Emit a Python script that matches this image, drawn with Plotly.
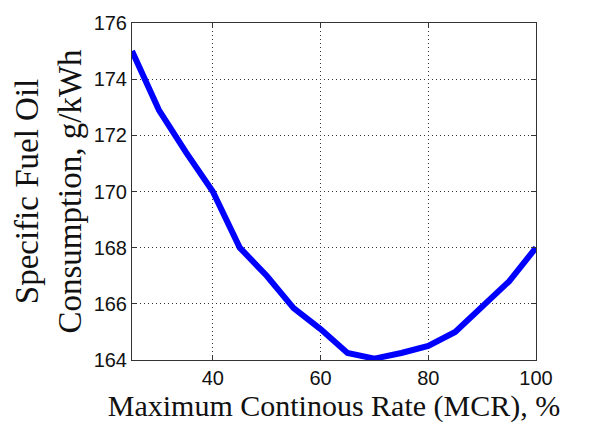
import plotly.graph_objects as go

mcr = [25, 30, 35, 40, 45, 50, 55, 60, 65, 70, 75, 80, 85, 90, 95, 100]
sfoc = [175.0, 172.9, 171.4, 170.0, 168.0, 167.0, 165.85, 165.1, 164.25, 164.05, 164.25, 164.5, 165.0, 165.9, 166.8, 168.0]

xticks = [40, 60, 80, 100]
yticks = [164, 166, 168, 170, 172, 174, 176]

SERIF = "Liberation Serif"
SANS = "Liberation Sans"

fig = go.Figure()
fig.add_trace(go.Scatter(x=mcr, y=sfoc, mode="lines",
                         line=dict(color="#0000ff", width=6), showlegend=False))

axis_common = dict(showline=True, linecolor="#333333", linewidth=1, mirror="allticks",
                   ticks="inside", ticklen=5, tickcolor="#333333",
                   showgrid=True, gridcolor="#333333", griddash="1px,3px", gridwidth=1,
                   zeroline=False,
                   tickfont=dict(family=SANS, size=20, color="#111111"))

fig.update_xaxes(range=[25, 100], tickvals=xticks, ticktext=[str(v) for v in xticks],
                 title=dict(text="Maximum Continous Rate (MCR), %",
                            font=dict(family=SERIF, size=30, color="#111111"),
                            standoff=0),
                 **axis_common)
fig.update_yaxes(range=[164, 176], tickvals=yticks, ticktext=[str(v) for v in yticks],
                 title=dict(text="Specific Fuel Oil<br>Consumption, g/kWh",
                            font=dict(family=SERIF, size=33, color="#111111"),
                            standoff=2),
                 **axis_common)

fig.update_layout(width=591, height=423, margin=dict(l=132, r=55, t=20, b=63),
                  plot_bgcolor="white", paper_bgcolor="white")

fig.write_html("out.html")
